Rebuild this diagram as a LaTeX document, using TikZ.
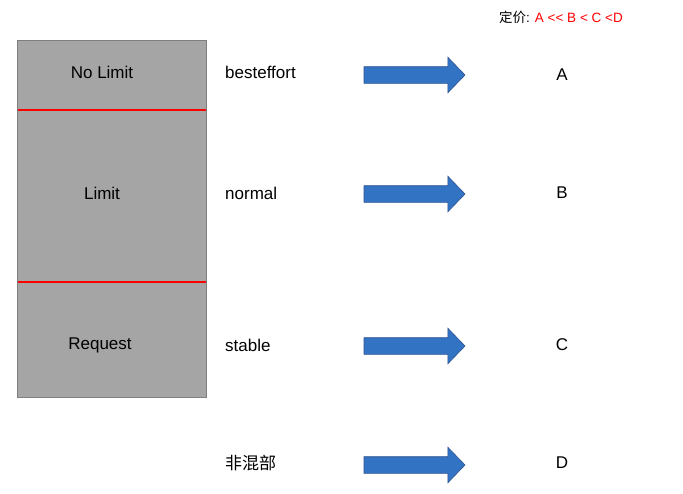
\documentclass[tikz,border=0pt]{standalone}
\usepackage{fontspec}
\setmainfont{Liberation Sans}
\newfontfamily\cjk{Noto Sans CJK SC}
\usetikzlibrary{shapes.arrows}

\definecolor{boxgray}{HTML}{A5A5A5}
\definecolor{boxedge}{HTML}{7F7F7F}
\definecolor{arrowblue}{HTML}{3373C4}
\definecolor{arrowedge}{HTML}{2F528F}
\definecolor{pricered}{HTML}{FF0000}

\begin{document}
\begin{tikzpicture}[
    x=1pt,y=-1pt,
    pool/.style={draw=boxedge, fill=boxgray, line width=0.8pt,
      minimum width=189pt, minimum height=357pt, inner sep=0pt},
    splitline/.style={draw=pricered, line width=1.4pt},
    txt/.style={font=\fontsize{17}{20}\selectfont, inner sep=0pt},
    cls/.style={txt, anchor=west},
    grade/.style={txt},
    fat/.style={single arrow, draw=arrowedge, fill=arrowblue, line width=0.6pt,
      minimum height=101pt, minimum width=35pt, inner xsep=0pt, inner ysep=8pt,
      single arrow head extend=9.5pt, single arrow tip angle=92}
  ]
    \useasboundingbox (0,0) rectangle (683,493);

    % node pool and its layers
    \node[pool] (pool) at (111.5,218.5) {};
    \draw[splitline] (17.5,110) -- (205.5,110);
    \draw[splitline] (17.5,282) -- (205.5,282);
    \node[txt] (nolimit) at (102,72) {No Limit};
    \node[txt] (limit) at (102,193) {Limit};
    \node[txt] (request) at (100,345) {Request};

    % qos classes
    \node[cls] (besteffort) at (225,72) {besteffort};
    \node[cls] (normal) at (225,193) {normal};
    \node[cls] (stable) at (225,345) {stable};
    \node[cls] (exclusive) at (225,463) {\cjk 非混部};

    % arrows
    \node[fat] (toA) at (410.5,75) {};
    \node[fat] (toB) at (410.5,194) {};
    \node[fat] (toC) at (410.5,346) {};
    \node[fat] (toD) at (410.5,465) {};

    % price grades
    \node[grade] (gA) at (562,75) {A};
    \node[grade] (gB) at (562,193) {B};
    \node[grade] (gC) at (562,345) {C};
    \node[grade] (gD) at (562,463) {D};

    \node[font=\fontsize{13.5}{16}\selectfont, inner sep=0pt] (price) at (561,17)
      {{\cjk 定价}: \textcolor{pricered}{A {<}{<} B {<} C {<}D}};
  \end{tikzpicture}
\end{document}
